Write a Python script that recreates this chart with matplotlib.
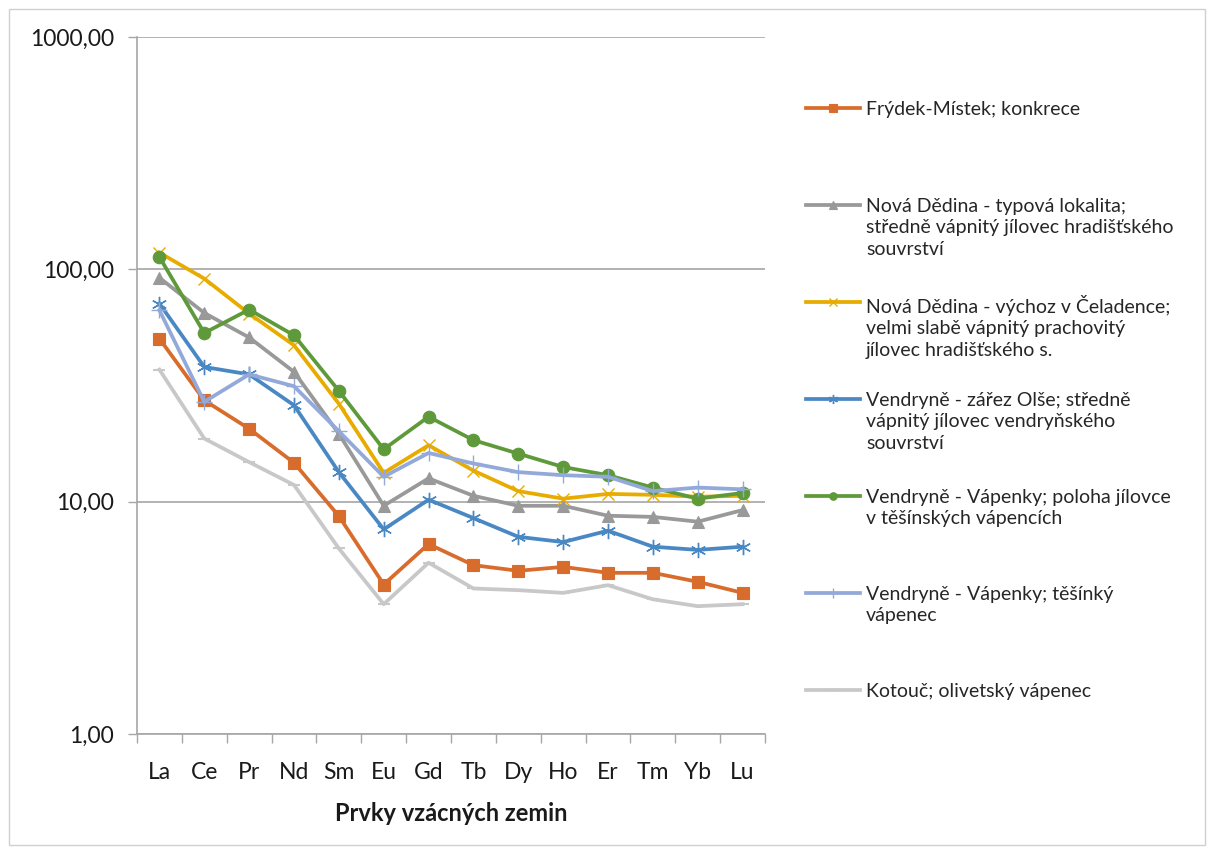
import numpy as np
import matplotlib
matplotlib.use("Agg")
import matplotlib.pyplot as plt
from matplotlib.lines import Line2D
from matplotlib.patches import Rectangle
from matplotlib.ticker import FixedLocator, FuncFormatter, NullLocator

plt.rcParams["font.family"] = ["Lato", "DejaVu Sans"]

# ===== data =====
elements = ["La", "Ce", "Pr", "Nd", "Sm", "Eu", "Gd", "Tb", "Dy", "Ho", "Er", "Tm", "Yb", "Lu"]

frydek = [50.3, 27.3, 20.6, 14.7, 8.67, 4.4, 6.57, 5.33, 5.04, 5.24, 4.94, 4.94, 4.52, 4.05]
nd_typova = [92, 64.9, 50.9, 36.2, 19.6, 9.6, 12.6, 10.6, 9.6, 9.6, 8.7, 8.6, 8.2, 9.2]
nd_vychoz = [118, 91.2, 64.5, 47.1, 26.4, 13.3, 17.5, 13.6, 11.1, 10.3, 10.8, 10.7, 10.5, 10.6]
ven_olse = [71.2, 38.0, 35.3, 26.0, 13.4, 7.6, 10.2, 8.5, 7.06, 6.7, 7.5, 6.4, 6.2, 6.4]
ven_jilovec = [113, 53.2, 67.1, 52.0, 30.0, 16.8, 23.2, 18.4, 16.1, 14.1, 13.0, 11.5, 10.3, 10.9]
ven_vapenec = [66.6, 26.9, 35.3, 31.4, 20.1, 12.8, 16.2, 14.6, 13.4, 13.0, 12.8, 11.1, 11.5, 11.3]
kotouc = [37, 18.7, 14.8, 11.8, 6.29, 3.62, 5.46, 4.23, 4.16, 4.05, 4.37, 3.80, 3.55, 3.62]

labels = [
    "Frýdek-Místek; konkrece",
    "Nová Dědina - typová lokalita;\nstředně vápnitý jílovec hradišťského\nsouvrství",
    "Nová Dědina - výchoz v Čeladence;\nvelmi slabě vápnitý prachovitý\njílovec hradišťského s.",
    "Vendryně - zářez Olše; středně\nvápnitý jílovec vendryňského\nsouvrství",
    "Vendryně - Vápenky; poloha jílovce\nv těšínských vápencích",
    "Vendryně - Vápenky; těšínký\nvápenec",
    "Kotouč; olivetský vápenec",
]

series = [frydek, nd_typova, nd_vychoz, ven_olse, ven_jilovec, ven_vapenec, kotouc]

# style per series: color, marker, markersize, marker edge width
styles = [
    dict(color="#D86C2C", marker="s", ms=8.5, mew=0.8),
    dict(color="#999999", marker="^", ms=9, mew=0.8),
    dict(color="#E8AC00", marker="x", ms=9, mew=1.0),
    dict(color="#4A88C4", marker=(6, 2, 0), ms=11, mew=1.0),
    dict(color="#5E9A3A", marker="o", ms=9, mew=0.8),
    dict(color="#93A9DA", marker="+", ms=11, mew=1.0),
    dict(color="#C8C8C8", marker="_", ms=9, mew=1.5),
]

fig = plt.figure(figsize=(12.14, 8.52), dpi=100)
ax = fig.add_axes([137 / 1214, 1 - 734 / 852, (765 - 137) / 1214, (734 - 37) / 852])

x = np.arange(len(elements))
for vals, st in zip(series, styles):
    ax.plot(x, vals, color=st["color"], linewidth=2.7, marker=st["marker"],
            markersize=st["ms"], markeredgewidth=st["mew"],
            markerfacecolor=st["color"], markeredgecolor=st["color"], zorder=3)

ax.set_yscale("log")
ax.set_ylim(1, 1000)
ax.set_xlim(-0.5, len(elements) - 0.5)
ax.yaxis.set_major_locator(FixedLocator([1, 10, 100, 1000]))
ax.yaxis.set_minor_locator(NullLocator())
ax.yaxis.set_major_formatter(FuncFormatter(lambda v, p: f"{v:.2f}".replace(".", ",")))
ax.set_xticks(x)
ax.set_xticklabels(elements)
ax.set_xticks(np.arange(len(elements) + 1) - 0.5, minor=True)
ax.tick_params(axis="x", which="major", length=0, labelsize=16.5, pad=20)
ax.tick_params(axis="x", which="minor", length=6.5, color="#A6A6A6", width=1)
ax.tick_params(axis="y", which="major", length=6.5, color="#A6A6A6", width=1,
               labelsize=16.5, pad=10)
for lbl in ax.get_xticklabels() + ax.get_yticklabels():
    lbl.set_color("#1A1A1A")

ax.grid(axis="y", which="major", color="#A6A6A6", linewidth=1.2)
ax.set_axisbelow(True)
for side in ["top", "right"]:
    ax.spines[side].set_visible(False)
ax.spines["left"].set_color("#A6A6A6")
ax.spines["bottom"].set_color("#A6A6A6")
ax.spines["left"].set_linewidth(1.2)
ax.spines["bottom"].set_linewidth(1.2)

ax.set_xlabel("Prvky vzácných zemin", fontsize=17, fontweight="bold", labelpad=14,
              color="#1A1A1A")

# manual legend on the right
W, H = 1214, 852
first_line_y = [108, 205, 302, 399, 496, 593, 690]
for lab, st, yy in zip(labels, styles, first_line_y):
    yf = 1 - yy / H
    fig.add_artist(Line2D([806 / W, 860 / W], [yf, yf], color=st["color"], linewidth=2.7))
    fig.add_artist(Line2D([833 / W], [yf], color=st["color"], marker=st["marker"],
                          markersize=st["ms"] * 0.6, markeredgewidth=st["mew"],
                          markerfacecolor=st["color"], markeredgecolor=st["color"]))
    fig.text(866 / W, yf + 7 / H, lab, fontsize=14, va="top", ha="left",
             linespacing=1.32, color="#262626")

# outer chart border
fig.add_artist(Rectangle((9 / W, 7 / H), 1196 / W, 836 / H, transform=fig.transFigure,
                         fill=False, edgecolor="#D0D0D0", linewidth=1))

plt.savefig("out.png", dpi=100)
